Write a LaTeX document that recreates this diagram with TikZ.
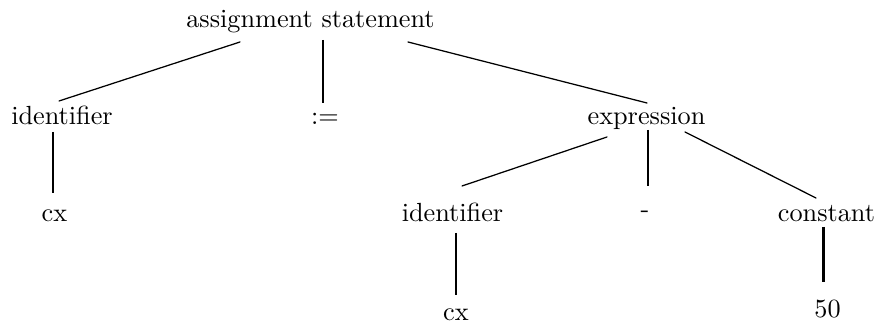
\documentclass[tikz,border=0pt]{standalone}
\usepackage{tikz}
\usetikzlibrary{calc, positioning}
\tikzset{
  treelabel/.style={
    anchor=base, inner sep=0pt, font=\rmfamily\fontsize{10.5}{12}\selectfont
  },
  treeedge/.style={
    line width=0.5pt, line cap=round
  },
  treestem/.style={
    line width=0.8pt
  },
  treestemheavy/.style={
    line width=1.2pt
  },
}
\begin{document}
\begin{tikzpicture}[x=0.4pt, y=-0.4pt]
  \useasboundingbox (0,0) rectangle (880,324);

  % Root
  \node[treelabel] (assign) at (310.5,28) {assignment statement};

  % Level 1
  \node[treelabel] (ident) at (62,125) {identifier};
  \node[treelabel] (becomes) at (325,125) {:=};
  \node[treelabel] (expr) at (646.5,125) {expression};

  % Level 2
  \node[treelabel] (cxleft) at (54.5,222) {cx};
  \node[treelabel] (identexpr) at (452.5,222) {identifier};
  \node[treelabel] (minus) at (645,218) {-};
  \node[treelabel] (const) at (826.5,222) {constant};

  % Level 3
  \node[treelabel] (cxright) at (456,321) {cx};
  \node[treelabel] (fifty) at (827.5,318) {50};

  % Edges from the root
  \draw[treeedge] ($(assign.base)+(-70.5,14)$) -- ($(ident.base)+(-3,-24)$);
  \draw[treestem] ($(assign.base)+(12.5,12)$) -- ($(becomes.base)+(-2,-22)$);
  \draw[treeedge] ($(assign.base)+(97.5,14)$) -- ($(expr.base)+(0.5,-22)$);

  % Left identifier
  \draw[treestem] ($(ident.base)+(-9,7)$) -- ($(cxleft.base)+(-1.5,-29)$);

  % Expression subtree
  \draw[treeedge] ($(expr.base)+(-39.5,12)$) -- ($(identexpr.base)+(9.5,-36)$);
  \draw[treestem] ($(expr.base)+(1.5,5)$) -- ($(minus.base)+(3,-32)$);
  \draw[treeedge] ($(expr.base)+(38.5,7)$) -- ($(const.base)+(-10.5,-24)$);
  \draw[treestem] ($(identexpr.base)+(3.5,11)$) -- ($(cxright.base)+(0,-26)$);
  \draw[treestemheavy] ($(const.base)+(-3.5,5)$) -- ($(fifty.base)+(-4.5,-36)$);
\end{tikzpicture}
\end{document}
